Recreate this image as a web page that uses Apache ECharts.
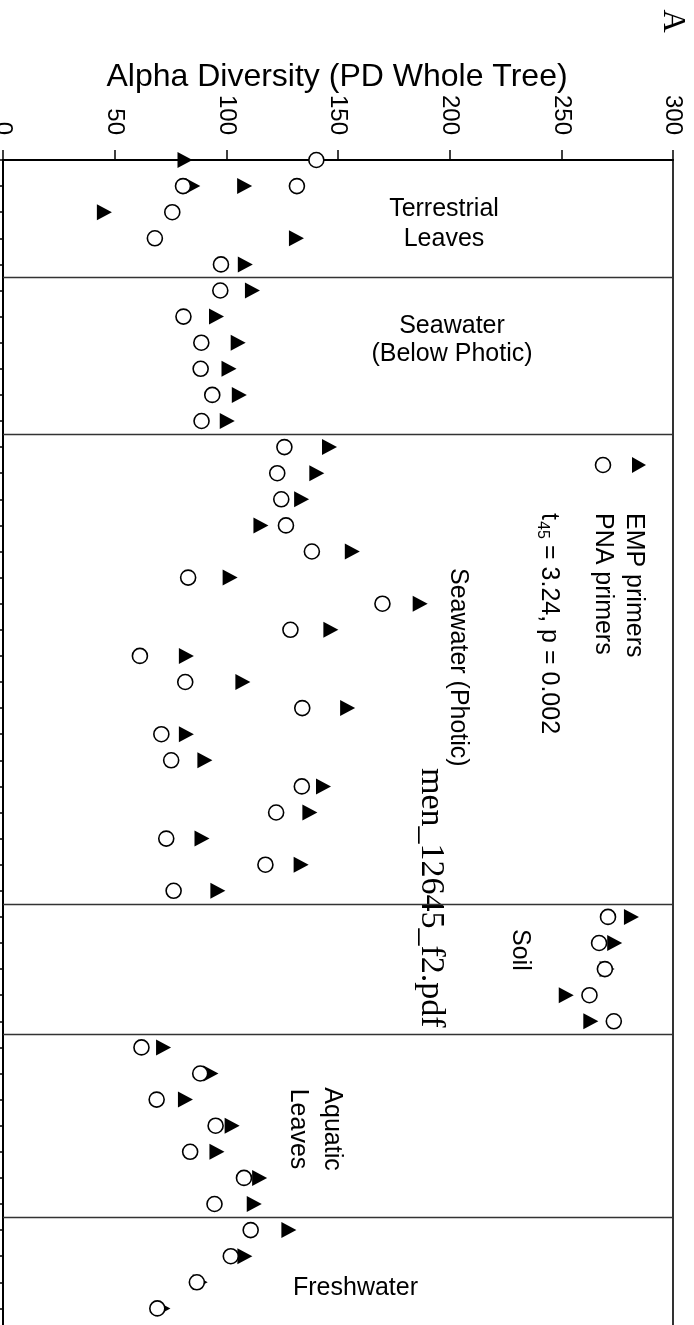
<!DOCTYPE html>
<html><head><meta charset="utf-8">
<script src="https://cdn.jsdelivr.net/npm/echarts@6/dist/echarts.min.js"></script>
<style>html,body{margin:0;padding:0;background:#fff}#chart{width:694px;height:1325px}</style>
</head><body><div id="chart"></div>
<script>
// ---- data ----
const valueMin = 0, valueMax = 300, valueStep = 50;
// row (sample position) of each of the 46 paired samples
const sampleRows = [0,1,1,2,3,4,5,6,7,8,9,10,11,12,13,14,15,16,17,18,19,20,21,22,23,24,25,26,27,28,29,30,31,32,33,34,35,36,37,38,39,40,41,42,43,44];
const empValues = [81.5,85.0,108.2,45.4,131.4,108.5,
  111.7,95.6,105.3,101.2,105.8,100.4,
  146.2,140.5,133.7,115.5,156.4,101.7,186.8,146.8,82.1,107.4,154.3,82.1,90.4,143.5,137.4,89.1,133.5,96.2,
  281.4,273.9,270.5,252.2,263.2,
  71.9,93.1,81.7,102.6,95.8,114.9,112.5,
  128.0,108.3,88.3,71.6];
const pnaValues = [140.3,80.6,131.6,75.8,68.0,97.6,
  97.3,80.8,88.8,88.5,93.7,88.9,
  126.0,122.8,124.6,126.7,138.3,82.9,169.9,128.7,61.3,81.6,134.0,70.9,75.3,133.8,122.3,73.1,117.5,76.4,
  270.9,266.9,269.5,262.6,273.5,
  62.0,88.3,68.8,95.2,83.8,107.9,94.7,
  110.9,102.0,86.8,69.1];
const rowCount = 45;
const groupBreaks = [4.5,10.5,28.5,33.5,40.5];
const seriesNames = ['EMP primers','PNA primers'];
const axisTitle = 'Alpha Diversity (PD Whole Tree)';

const FONT = "'Liberation Sans', Arial, Helvetica, sans-serif";
const SERIF = "'Liberation Serif', 'Times New Roman', serif";
const TRI = 'path://M0,0L14,8L0,16Z';
const ROT = -Math.PI/2;

const empData = empValues.map((v,i)=>[v, sampleRows[i]]);
const pnaData = pnaValues.map((v,i)=>[v, sampleRows[i]]);

const chart = echarts.init(document.getElementById('chart'), null, {renderer:'canvas'});
chart.setOption({
  animation:false,
  backgroundColor:'#fff',
  grid:{left:3, top:160, width:670, height:26.1*rowCount, show:true, borderColor:'#000', borderWidth:1.6,
        containLabel:false, outerBoundsMode:'none'},
  xAxis:{type:'value', position:'top', min:valueMin, max:valueMax, interval:valueStep,
    axisLine:{show:true, lineStyle:{color:'#000', width:2}},
    axisTick:{show:true, inside:false, length:10, lineStyle:{color:'#000', width:1.5}},
    axisLabel:{show:true, rotate:-90, margin:25, fontSize:24, fontFamily:FONT, color:'#000',
               align:'right', verticalAlign:'middle', hideOverlap:false},
    splitLine:{show:false}},
  yAxis:{type:'value', inverse:true, min:0, max:rowCount, interval:1,
    axisLine:{show:true, lineStyle:{color:'#000', width:2}},
    axisTick:{show:true, inside:false, length:6, lineStyle:{color:'#000', width:1.5}},
    axisLabel:{show:false}, splitLine:{show:false}},
  series:[
    {name:seriesNames[0], type:'scatter', data:empData, symbol:TRI, symbolSize:[15,16],
     itemStyle:{color:'#000', opacity:1}, z:2,
     markLine:{silent:true, symbol:['none','none'], label:{show:false},
       lineStyle:{color:'#333', width:1.4, type:'solid', opacity:1},
       data:groupBreaks.map(v=>({yAxis:v}))}},
    {name:seriesNames[1], type:'scatter', data:pnaData, symbol:'circle', symbolSize:15,
     itemStyle:{color:'#fff', borderColor:'#000', borderWidth:1.6, opacity:1}, z:3}
  ],
  graphic:[
    {type:'text', x:337, y:77, style:{text:axisTitle, fontSize:32, fontFamily:FONT, fill:'#000', align:'center', verticalAlign:'middle'}},
    {type:'text', x:672, y:21, rotation:ROT, style:{text:'A', fontSize:32, fontFamily:SERIF, fill:'#000', align:'center', verticalAlign:'middle'}},
    // legend
    {type:'polygon', z:10, shape:{points:[[632,457],[646,465],[632,473]]}, style:{fill:'#000'}},
    {type:'circle', z:10, shape:{cx:603, cy:465, r:7.5}, style:{fill:'#fff', stroke:'#000', lineWidth:1.6}},
    {type:'text', x:634, y:513, rotation:ROT, style:{text:seriesNames[0], fontSize:25, fontFamily:FONT, fill:'#000', align:'left', verticalAlign:'middle'}},
    {type:'text', x:603, y:513, rotation:ROT, style:{text:seriesNames[1], fontSize:25, fontFamily:FONT, fill:'#000', align:'left', verticalAlign:'middle'}},
    {type:'text', x:549, y:513, rotation:ROT, style:{text:'t', fontSize:25, fontFamily:FONT, fill:'#000', align:'left', verticalAlign:'middle'}},
    {type:'text', x:542, y:521, rotation:ROT, style:{text:'45', fontSize:16, fontFamily:FONT, fill:'#000', align:'left', verticalAlign:'middle'}},
    {type:'text', x:549, y:545, rotation:ROT, style:{text:'= 3.24, p = 0.002', fontSize:25, fontFamily:FONT, fill:'#000', align:'left', verticalAlign:'middle'}},
    // group labels
    {type:'text', x:444, y:224, style:{text:'Terrestrial\nLeaves', fontSize:25, lineHeight:30, fontFamily:FONT, fill:'#000', align:'center', verticalAlign:'middle'}},
    {type:'text', x:452, y:340, style:{text:'Seawater\n(Below Photic)', fontSize:25, lineHeight:28, fontFamily:FONT, fill:'#000', align:'center', verticalAlign:'middle'}},
    {type:'text', x:458, y:568, rotation:ROT, style:{text:'Seawater (Photic)', fontSize:25, fontFamily:FONT, fill:'#000', align:'left', verticalAlign:'middle'}},
    {type:'text', x:431, y:768, rotation:ROT, style:{text:'men_12645_f2.pdf', fontSize:34, fontFamily:SERIF, fill:'#000', align:'left', verticalAlign:'middle'}},
    {type:'text', x:520, y:929, rotation:ROT, style:{text:'Soil', fontSize:25, fontFamily:FONT, fill:'#000', align:'left', verticalAlign:'middle'}},
    {type:'text', x:315, y:1129, rotation:ROT, style:{text:'Aquatic\nLeaves', fontSize:25, lineHeight:34, fontFamily:FONT, fill:'#000', align:'center', verticalAlign:'middle'}},
    {type:'text', x:293, y:1288, style:{text:'Freshwater', fontSize:25, fontFamily:FONT, fill:'#000', align:'left', verticalAlign:'middle'}}
  ]
});
</script></body></html>
